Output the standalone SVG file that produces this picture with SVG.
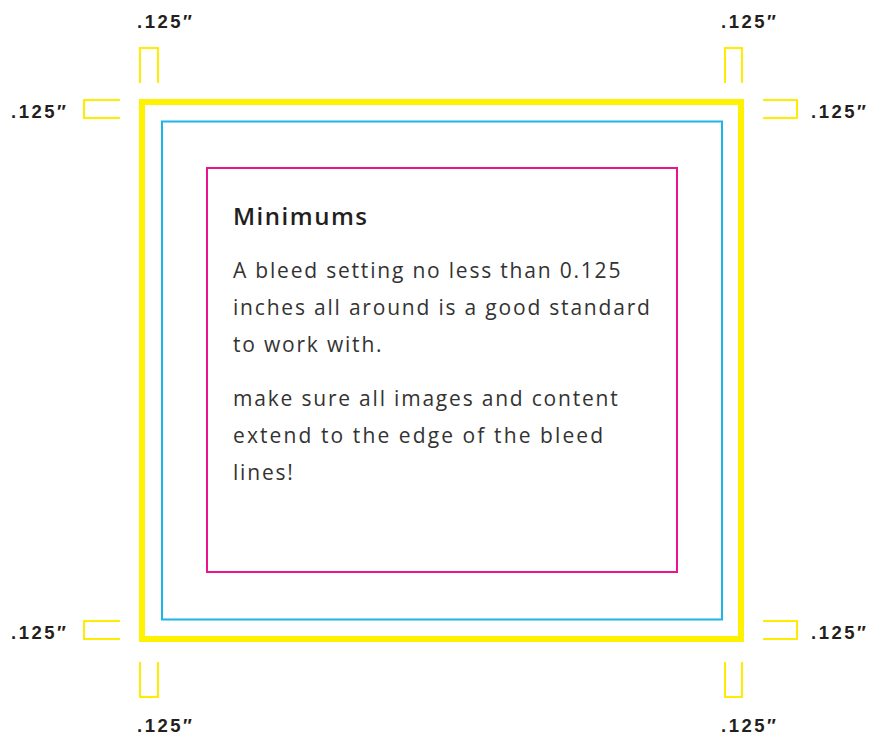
<svg xmlns="http://www.w3.org/2000/svg" width="870" height="738" viewBox="0 0 870 738">
<style>
.bk{fill:none;stroke:#ffed00;stroke-width:2}
.lbl{font-family:"Liberation Sans",Arial,sans-serif;font-weight:bold;font-size:18.5px;fill:#231f20;letter-spacing:2.5px}
.h{font-family:"Open Sans","Liberation Sans",sans-serif;font-weight:600;font-size:24px;fill:#231f20;letter-spacing:1.5px}
.b{font-family:"Open Sans","Liberation Sans",sans-serif;font-size:21px;fill:#333;letter-spacing:1.8px}
.b2{letter-spacing:2.1px}
</style>
<rect width="870" height="738" fill="#fff"/>
<g id="bleed"><rect x="142" y="102" width="599" height="537" fill="none" stroke="#fff200" stroke-width="6"/></g>
<g id="trim"><rect x="162" y="121.5" width="560" height="498" fill="none" stroke="#1cb5ea" stroke-width="2"/></g>
<g id="safe"><rect x="207" y="168" width="470" height="404" fill="none" stroke="#ec148c" stroke-width="2"/></g>
<g id="marks">
<path class="bk" d="M140,83 V48 H158 V83"/>
<path class="bk" d="M120,100 H84 V118 H120"/>
<path class="bk" d="M725,83 V48 H742 V83"/>
<path class="bk" d="M763,100 H797 V118 H763"/>
<path class="bk" d="M120,621 H84 V639 H120"/>
<path class="bk" d="M140,662 V697 H158 V662"/>
<path class="bk" d="M763,621 H797 V639 H763"/>
<path class="bk" d="M725,662 V697 H742 V662"/>
</g>
<g id="labels">
<text class="lbl" x="137" y="28">.125″</text>
<text class="lbl" x="721" y="28">.125″</text>
<text class="lbl" x="11" y="118">.125″</text>
<text class="lbl" x="811" y="118">.125″</text>
<text class="lbl" x="11" y="639">.125″</text>
<text class="lbl" x="811" y="639">.125″</text>
<text class="lbl" x="137" y="732">.125″</text>
<text class="lbl" x="721" y="732">.125″</text>
</g>
<g id="content">
<text class="h" x="233" y="225">Minimums</text>
<text class="b" x="233" y="278">A bleed setting no less than 0.125</text>
<text class="b" x="233" y="315">inches all around is a good standard</text>
<text class="b" x="233" y="352">to work with.</text>
<text class="b" x="233" y="406">make sure all images and content</text>
<text class="b b2" x="233" y="443">extend to the edge of the bleed</text>
<text class="b" x="233" y="480">lines!</text>
</g>
</svg>
